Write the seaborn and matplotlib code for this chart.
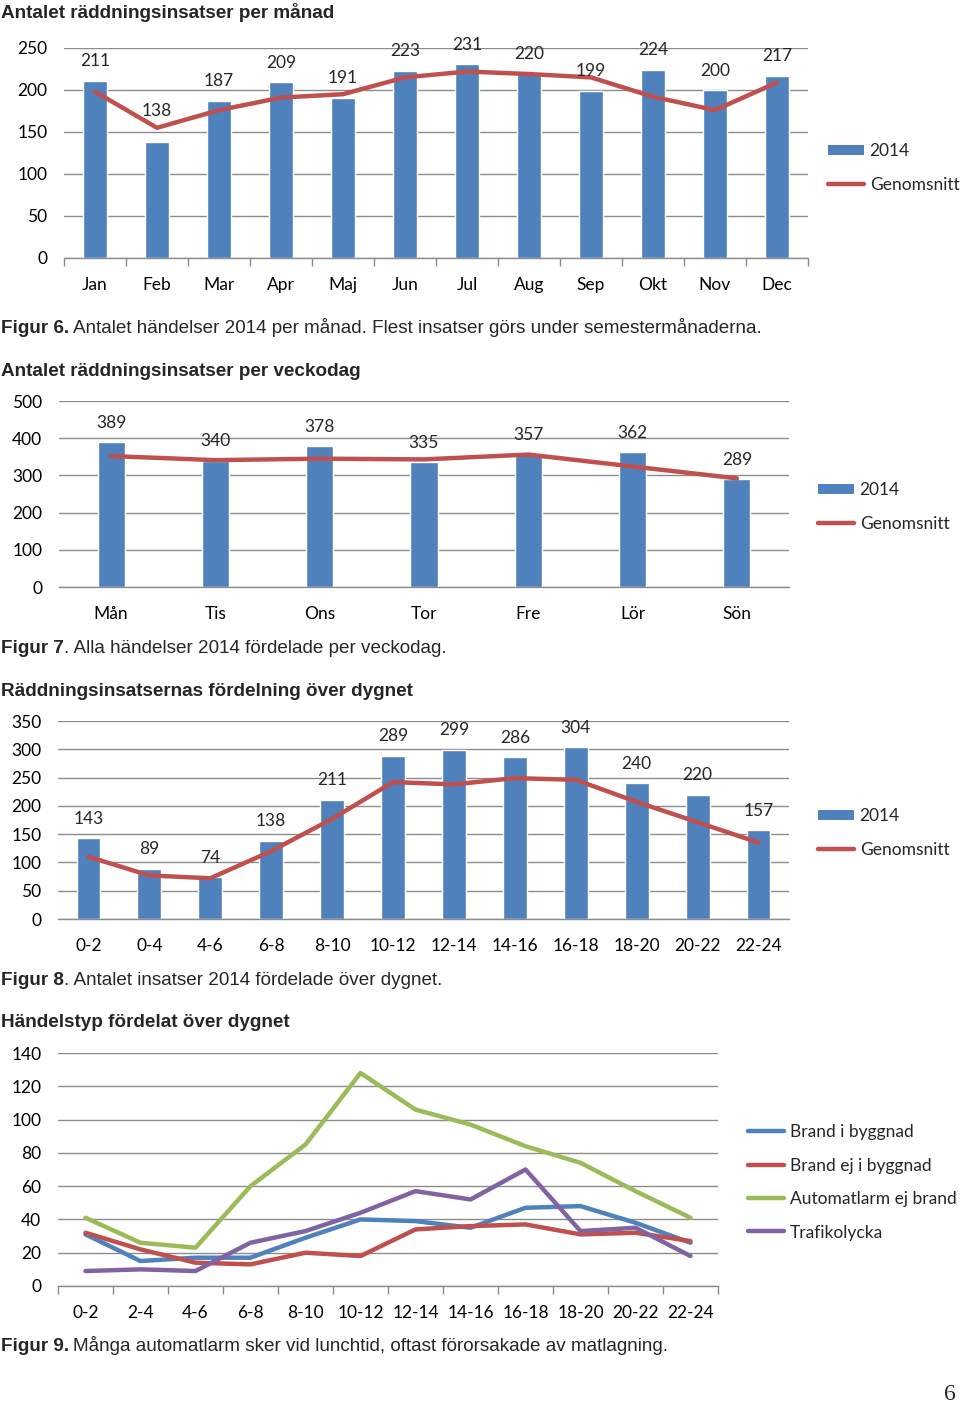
import numpy as np
import pandas as pd
import matplotlib
matplotlib.use("Agg")
import matplotlib.pyplot as plt
from matplotlib.patches import Patch
from matplotlib.lines import Line2D
import seaborn as sns

# --- data -------------------------------------------------------------
months = ["Jan", "Feb", "Mar", "Apr", "Maj", "Jun", "Jul", "Aug", "Sep", "Okt", "Nov", "Dec"]
month_2014 = [211, 138, 187, 209, 191, 223, 231, 220, 199, 224, 200, 217]
month_avg = [198, 155, 176, 191, 195, 215, 222, 219, 215, 192, 176, 209]

weekdays = ["Mån", "Tis", "Ons", "Tor", "Fre", "Lör", "Sön"]
weekday_2014 = [389, 340, 378, 335, 357, 362, 289]
weekday_avg = [352, 341, 345, 343, 356, 324, 292]

hours = ["0-2", "0-4", "4-6", "6-8", "8-10", "10-12", "12-14", "14-16", "16-18", "18-20", "20-22", "22-24"]
hour_2014 = [143, 89, 74, 138, 211, 289, 299, 286, 304, 240, 220, 157]
hour_avg = [110, 77, 72, 120, 177, 242, 238, 249, 246, 207, 171, 135]

hours4 = ["0-2", "2-4", "4-6", "6-8", "8-10", "10-12", "12-14", "14-16", "16-18", "18-20", "20-22", "22-24"]
brand_i_byggnad = [31, 15, 17, 17, 29, 40, 39, 35, 47, 48, 38, 26]
brand_ej_i_byggnad = [32, 22, 14, 13, 20, 18, 34, 36, 37, 31, 32, 27]
automatlarm = [41, 26, 23, 60, 85, 128, 106, 97, 84, 74, 57, 41]
trafikolycka = [9, 10, 9, 26, 33, 44, 57, 52, 70, 33, 35, 18]
types = ["Brand i byggnad", "Brand ej i byggnad", "Automatlarm ej brand", "Trafikolycka"]

BLUE, RED, GREEN, PURPLE = "#4F81BD", "#C0504D", "#9BBB59", "#8064A2"
GRID = "#8C8C8C"
W, H = 960, 1404

sns.set_theme(style="white")
plt.rcParams["font.family"] = ["Lato", "DejaVu Sans"]
FS = 12.5
CAP = ["Liberation Sans", "DejaVu Sans"]

fig = plt.figure(figsize=(W / 100, H / 100), dpi=100)


def px_axes(x0, x1, ytop, ybot):
    return fig.add_axes([x0 / W, 1 - ybot / H, (x1 - x0) / W, (ybot - ytop) / H])


def style_axes(ax, n, ymax, step, boundary_ticks):
    ax.set_xlim(-0.5, n - 0.5)
    ax.set_ylim(0, ymax)
    ax.set_yticks(np.arange(0, ymax + 1, step))
    ax.yaxis.grid(True, color=GRID, lw=1)
    ax.set_axisbelow(True)
    for s in ["top", "right", "left"]:
        ax.spines[s].set_visible(False)
    ax.spines["bottom"].set_color(GRID)
    ax.spines["bottom"].set_linewidth(1)
    ax.tick_params(axis="y", length=0, pad=12, labelsize=FS, labelcolor="black")
    ax.tick_params(axis="x", which="major", length=0, pad=14, labelsize=FS, labelcolor="black")
    if boundary_ticks:
        ax.set_xticks(np.arange(-0.5, n, 1), minor=True)
        ax.tick_params(axis="x", which="minor", length=6, color=GRID, direction="out", bottom=True)
    ax.set_xlabel("")
    ax.set_ylabel("")


def bar_line_chart(ax, cats, vals, avg, width, ymax, step, boundary_ticks):
    sns.barplot(x=cats, y=vals, color=BLUE, saturation=1, width=width, ax=ax)
    sns.lineplot(x=np.arange(len(cats)), y=avg, color=RED, lw=3.2, ax=ax)
    for i, v in enumerate(vals):
        # label sits above the bar, or above the average line when that is clearly higher
        base = max(v, avg[i]) if avg[i] - v > 16 else v
        off = 12 if base != v else 14
        ax.annotate(str(v), (i, base), xytext=(0, off), textcoords="offset points",
                    ha="center", va="center", fontsize=FS)
    style_axes(ax, len(cats), ymax, step, boundary_ticks)


def bar_legend(xpx, ypx):
    handles = [Patch(facecolor=BLUE, edgecolor="none"), Line2D([], [], color=RED, lw=3.2)]
    fig.legend(handles, ["2014", "Genomsnitt"], loc="center left",
               bbox_to_anchor=(xpx / W, 1 - ypx / H), frameon=False, fontsize=FS,
               handlelength=2.1, handleheight=0.45, handletextpad=0.3, labelspacing=1.0,
               borderpad=0, borderaxespad=0)


def title(ypx, text):
    fig.text(1 / W, 1 - (ypx + 6) / H, text, fontsize=13.6, fontweight="bold",
             family=CAP, va="baseline", ha="left")


def caption(ypx, bold, rest, gap):
    y = 1 - (ypx + 7) / H
    t = fig.text(1 / W, y, bold, fontsize=13.6, fontweight="bold",
                 family=CAP, va="baseline", ha="left")
    fig.canvas.draw()
    bb = t.get_window_extent()
    fig.text((bb.x1 + gap) / W, y, rest, fontsize=13.6,
             family=CAP, va="baseline", ha="left")


# --- chart 1 ----------------------------------------------------------
title(12, "Antalet räddningsinsatser per månad")
ax1 = px_axes(64, 808, 48, 258)
bar_line_chart(ax1, months, month_2014, month_avg, 0.4, 250, 50, True)
bar_legend(828, 168)
caption(326, "Figur 6.", "Antalet händelser 2014 per månad. Flest insatser görs under semestermånaderna.", 4)

# --- chart 2 ----------------------------------------------------------
title(370, "Antalet räddningsinsatser per veckodag")
ax2 = px_axes(59, 789, 401, 587)
bar_line_chart(ax2, weekdays, weekday_2014, weekday_avg, 0.26, 500, 100, False)
bar_legend(818, 507)
caption(646, "Figur 7", ". Alla händelser 2014 fördelade per veckodag.", 0)

# --- chart 3 ----------------------------------------------------------
title(690, "Räddningsinsatsernas fördelning över dygnet")
ax3 = px_axes(58, 789, 721, 919)
bar_line_chart(ax3, hours, hour_2014, hour_avg, 0.39, 350, 50, False)
bar_legend(818, 833)
caption(978, "Figur 8", ". Antalet insatser 2014 fördelade över dygnet.", 0)

# --- chart 4 ----------------------------------------------------------
title(1021, "Händelstyp fördelat över dygnet")
ax4 = px_axes(58, 718, 1053, 1286)
long = pd.DataFrame({
    "x": np.tile(np.arange(len(hours4)), 4),
    "typ": np.repeat(types, len(hours4)),
    "antal": brand_i_byggnad + brand_ej_i_byggnad + automatlarm + trafikolycka,
})
sns.lineplot(data=long, x="x", y="antal", hue="typ", hue_order=types,
             palette=[BLUE, RED, GREEN, PURPLE], lw=3.2, ax=ax4, legend=False)
ax4.set_xticks(np.arange(len(hours4)))
ax4.set_xticklabels(hours4)
style_axes(ax4, len(hours4), 140, 20, True)
handles = [Line2D([], [], color=c, lw=3.2) for c in [BLUE, RED, GREEN, PURPLE]]
fig.legend(handles, types, loc="center left", bbox_to_anchor=(748 / W, 1 - 1182.5 / H),
           frameon=False, fontsize=FS, handlelength=2.1, handletextpad=0.3,
           labelspacing=1.0, borderpad=0, borderaxespad=0)
caption(1344, "Figur 9.", "Många automatlarm sker vid lunchtid, oftast förorsakade av matlagning.", 4)

fig.text(950 / W, 1 - 1400 / H, "6", fontsize=17, family=["Liberation Serif", "DejaVu Serif"],
         va="baseline", ha="center")

fig.savefig("out.png", dpi=100)
